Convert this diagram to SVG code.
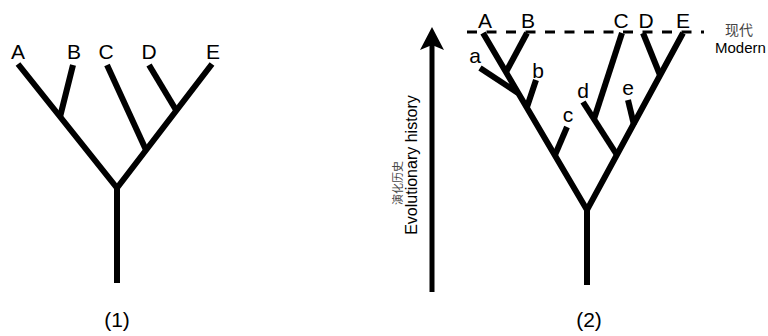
<svg xmlns="http://www.w3.org/2000/svg" width="768" height="336" viewBox="0 0 768 336">
  <defs>
    <style>
      .br { fill: none; stroke: #000; stroke-width: 6; stroke-linecap: butt; stroke-linejoin: miter; stroke-miterlimit: 10; }
      .lb { font-family: "Liberation Sans", Arial, sans-serif; font-size: 21px; fill: #000; text-anchor: middle; }
      .cap { font-family: "Liberation Sans", Arial, sans-serif; font-size: 21px; fill: #000; text-anchor: middle; }
      .small { font-family: "Liberation Sans", Arial, sans-serif; fill: #000; }
      .cjk { font-family: "Noto Sans CJK SC", "Noto Sans CJK JP", sans-serif; fill: #444; }
    </style>
    <marker id="arrowhead" markerUnits="userSpaceOnUse" markerWidth="30" markerHeight="30" viewBox="-5 -15 30 30" refX="0" refY="0" orient="auto">
      <path d="M18,0 L-5,-12 L0,0 L-5,12 Z" fill="#000"/>
    </marker>
  </defs>
  <rect width="768" height="336" fill="#fff"/>

  <g id="connectors">
    <!-- Tree (1) -->
    <path class="br" d="M18,64 L117,188 L212,64"/>
    <path class="br" d="M117,188 V283"/>
    <path class="br" d="M73,65 L60,117"/>
    <path class="br" d="M107,65 L146,150"/>
    <path class="br" d="M149,65 L176,110"/>
    <!-- Tree (2) -->
    <path class="br" d="M483,33 L587,210 L683,33"/>
    <path class="br" d="M587,210 V285"/>
    <path class="br" d="M527,33 L506,72"/>
    <path class="br" d="M480,68 L518,93"/>
    <path class="br" d="M536,80 L527,107"/>
    <path class="br" d="M567,127 L555,155"/>
    <path class="br" d="M583,102 L617,155"/>
    <path class="br" d="M622,33 L594,119"/>
    <path class="br" d="M643,33 L660,75"/>
    <path class="br" d="M628,100 L634,125"/>
    <!-- Modern time line -->
    <line x1="467" y1="32" x2="704" y2="32" stroke="#000" stroke-width="3" stroke-dasharray="10 9.5"/>
    <!-- Evolutionary history arrow -->
    <line x1="432" y1="292" x2="432" y2="45" stroke="#000" stroke-width="5" marker-end="url(#arrowhead)"/>
  </g>

  <g id="tree1-labels">
    <g id="t1-A"><text class="cap" x="18" y="59">A</text></g>
    <g id="t1-B"><text class="cap" x="74" y="59">B</text></g>
    <g id="t1-C"><text class="cap" x="106" y="59">C</text></g>
    <g id="t1-D"><text class="cap" x="149" y="59">D</text></g>
    <g id="t1-E"><text class="cap" x="213" y="59">E</text></g>
    <g id="t1-caption"><text class="cap" x="117" y="327">(1)</text></g>
  </g>

  <g id="tree2-labels">
    <g id="t2-A"><text class="cap" x="485" y="28">A</text></g>
    <g id="t2-B"><text class="cap" x="528" y="28">B</text></g>
    <g id="t2-C"><text class="cap" x="621" y="28">C</text></g>
    <g id="t2-D"><text class="cap" x="646" y="28">D</text></g>
    <g id="t2-E"><text class="cap" x="683" y="28">E</text></g>
    <g id="t2-a"><text class="lb" x="475" y="63">a</text></g>
    <g id="t2-b"><text class="lb" x="538" y="78">b</text></g>
    <g id="t2-c"><text class="lb" x="568" y="122">c</text></g>
    <g id="t2-d"><text class="lb" x="583" y="98">d</text></g>
    <g id="t2-e"><text class="lb" x="628" y="95">e</text></g>
    <g id="t2-caption"><text class="cap" x="589" y="327">(2)</text></g>
  </g>

  <g id="modern-label">
    <text class="cjk" x="739" y="35" font-size="14" text-anchor="middle">现代</text>
    <text class="small" x="715" y="53" font-size="15">Modern</text>
  </g>

  <g id="history-label">
    <text class="cjk" transform="translate(402,183) rotate(-90)" font-size="11" text-anchor="middle">演化历史</text>
    <text class="small" transform="translate(417,165) rotate(-90)" font-size="16" text-anchor="middle">Evolutionary history</text>
  </g>
</svg>
